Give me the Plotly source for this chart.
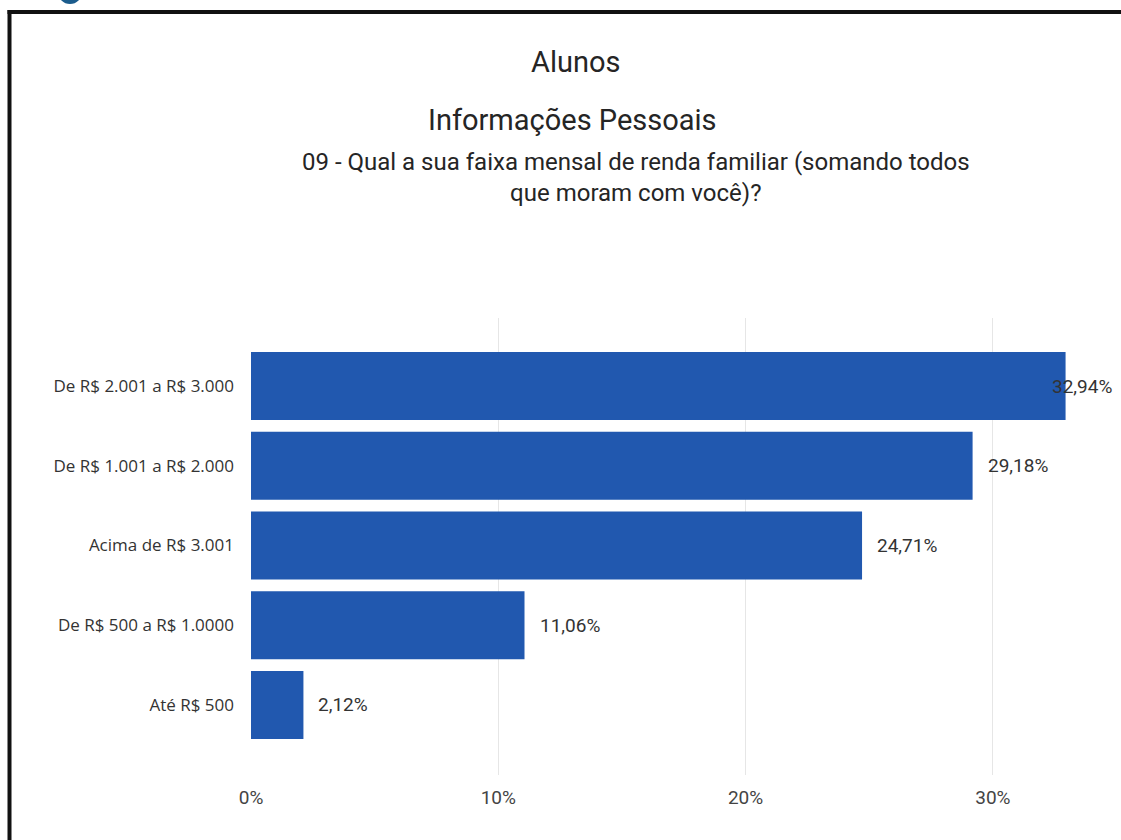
import plotly.graph_objects as go

# ---- data ----
categories = ["Até R$ 500", "De R$ 500 a R$ 1.0000", "Acima de R$ 3.001",
              "De R$ 1.001 a R$ 2.000", "De R$ 2.001 a R$ 3.000"]
values = [2.12, 11.06, 24.71, 29.18, 32.94]
x_tickvals = [0, 10, 20, 30]
x_ticktext = ["0%", "10%", "20%", "30%"]

title_1 = "Alunos"
title_2 = "Informações Pessoais"
question = "09 - Qual a sua faixa mensal de renda familiar (somando todos<br>que moram com você)?"

# ---- layout geometry ----
W, H = 1121, 840
ML, MR, MT, MB = 251, 26, 318, 65
PW, PH = W - ML - MR, H - MT - MB
XMAX = 34.13
px_per_unit = PW / XMAX

def pxx(px):
    return (px - ML) / PW

def pxy(py):
    return 1 - (py - MT) / PH

bar_color = "#2158AF"
title_font = "Roboto"
label_font = "Roboto"

fig = go.Figure()
fig.add_trace(go.Bar(
    x=values, y=categories, orientation="h",
    marker=dict(color=bar_color, line=dict(width=0)),
    width=0.855, hoverinfo="skip", showlegend=False,
))

annotations = []
for v, c in zip(values, categories):
    txt = f"{v:.2f}%".replace(".", ",")
    est_w = 70
    end_px = v * px_per_unit
    if end_px + 16 + est_w > PW + 18:
        annotations.append(dict(x=pxx(1114), xref="paper", y=c, yref="y", text=txt,
                                showarrow=False, xanchor="right",
                                font=dict(family=label_font, size=19, color="#333333")))
    else:
        annotations.append(dict(x=v, xref="x", y=c, yref="y", text=txt,
                                showarrow=False, xanchor="left", xshift=13,
                                font=dict(family=label_font, size=19, color="#333333")))

annotations += [
    dict(x=pxx(575), y=pxy(62), xref="paper", yref="paper", text=title_1, showarrow=False,
         xanchor="center", yanchor="middle", font=dict(family=title_font, size=29, color="#252525")),
    dict(x=pxx(572), y=pxy(120), xref="paper", yref="paper", text=title_2, showarrow=False,
         xanchor="center", yanchor="middle", font=dict(family=title_font, size=29, color="#252525")),
    dict(x=pxx(636), y=pxy(177), xref="paper", yref="paper", text=question, showarrow=False,
         xanchor="center", yanchor="middle", align="center",
         font=dict(family=title_font, size=24, color="#252525")),
]

shapes = [
    # outer black frame: top and left edges (right/bottom run off the picture)
    dict(type="line", xref="paper", yref="paper",
         x0=pxx(7.5), x1=pxx(W + 5), y0=pxy(12), y1=pxy(12),
         line=dict(color="#111111", width=4), layer="above"),
    dict(type="line", xref="paper", yref="paper",
         x0=pxx(9.5), x1=pxx(9.5), y0=pxy(10), y1=pxy(H + 5),
         line=dict(color="#111111", width=4), layer="above"),
    # partial blue glyph at top-left
    dict(type="circle", xref="paper", yref="paper",
         x0=pxx(58), x1=pxx(82), y0=pxy(4), y1=pxy(-20),
         line=dict(width=0), fillcolor="#1B5C8C", layer="above"),
]

fig.update_layout(
    width=W, height=H,
    margin=dict(l=ML, r=MR, t=MT, b=MB, pad=0),
    paper_bgcolor="white", plot_bgcolor="white",
    xaxis=dict(range=[0, XMAX], tickvals=x_tickvals, ticktext=x_ticktext,
               showgrid=True, gridcolor="#E6E6E6", gridwidth=1, zeroline=False,
               showline=False, ticks="", ticklabelstandoff=9,
               tickfont=dict(family=label_font, size=19, color="#444444")),
    yaxis=dict(type="category", categoryorder="array", categoryarray=categories,
               range=[-0.878, 4.853], showgrid=False, zeroline=False, showline=False,
               ticks="", ticklabelstandoff=16,
               tickfont=dict(family="Open Sans", size=17, color="#333333")),
    annotations=annotations, shapes=shapes, bargap=0.15,
)

fig.write_html("out.html", config={"displayModeBar": False},
               post_script="document.body.style.margin='0';document.body.style.overflow='hidden';")
